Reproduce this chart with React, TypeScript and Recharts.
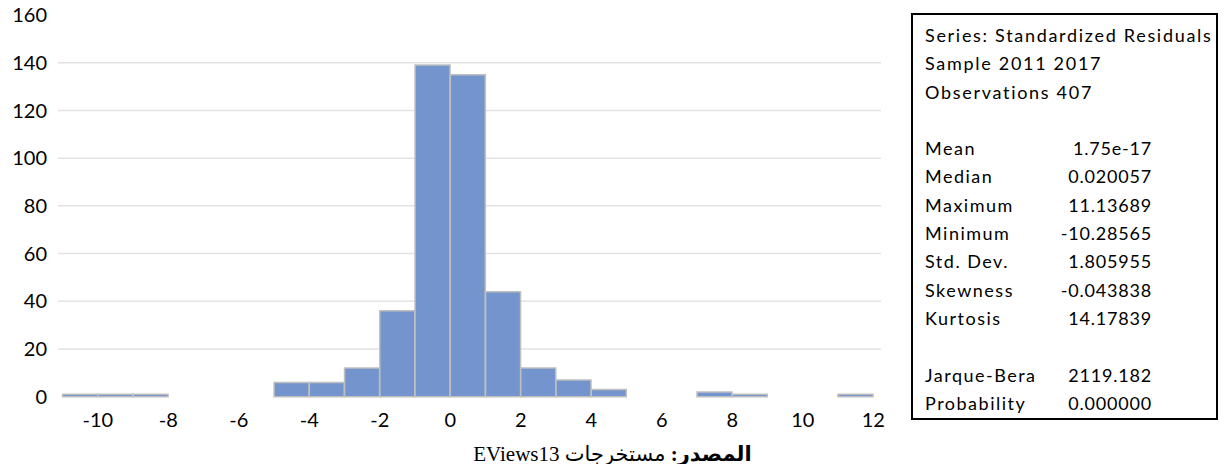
import React from "react";
import { BarChart, Bar, XAxis, YAxis, CartesianGrid } from "recharts";

// histogram bins (centre of each 1-unit bin) and counts
const binCenters = [
  -10.5, -9.5, -8.5, -7.5, -6.5, -5.5, -4.5, -3.5, -2.5, -1.5, -0.5, 0.5,
  1.5, 2.5, 3.5, 4.5, 5.5, 6.5, 7.5, 8.5, 9.5, 10.5, 11.5,
];
const counts = [
  1, 1, 1, 0, 0, 0, 6, 6, 12, 36, 139, 135, 44, 12, 7, 3, 0, 0, 2, 1, 0, 0, 1,
];

const xTicks = [-10, -8, -6, -4, -2, 0, 2, 4, 6, 8, 10, 12];
const yTicks = [0, 20, 40, 60, 80, 100, 120, 140, 160];
const gridValues = [20, 40, 60, 80, 100, 120, 140];

const statHeader = [
  "Series: Standardized Residuals",
  "Sample 2011 2017",
  "Observations 407",
];
const statLabels = [
  "Mean",
  "Median",
  "Maximum",
  "Minimum",
  "Std. Dev.",
  "Skewness",
  "Kurtosis",
];
const statValues = [
  "1.75e-17",
  "0.020057",
  "11.13689",
  "-10.28565",
  "1.805955",
  "-0.043838",
  "14.17839",
];
const testLabels = ["Jarque-Bera", "Probability"];
const testValues = ["2119.182", "0.000000"];

const data = binCenters.map((x, i) => ({ x, count: counts[i] }));

const tickStyle = { fill: "#000000", fontSize: 20, fontFamily: "Lato" };

function StatRow({ label, value }: { label: string; value: string }) {
  return (
    <div style={{ display: "flex", height: 28.3, lineHeight: "28.3px" }}>
      <span style={{ width: 130, letterSpacing: 1.5 }}>{label}</span>
      <span style={{ width: 97, textAlign: "right", letterSpacing: 0.8 }}>
        {value}
      </span>
    </div>
  );
}

export default function App() {
  return (
    <div style={{ position: "relative", width: 1214, height: 456 }}>
      {/* svg pulled up to the page top so the "160" label is not clipped */}
      <div style={{ position: "absolute", left: 0, top: -8 }}>
        <BarChart
          width={890}
          height={448}
          data={data}
          margin={{ top: 15, right: 17, bottom: 0, left: 0 }}
          barCategoryGap={0}
          barGap={0}
        >
          <CartesianGrid
            vertical={false}
            stroke="#e3e3e3"
            strokeWidth={1.5}
            horizontalValues={gridValues}
          />
          <XAxis
            dataKey="x"
            type="number"
            domain={[-11.13, 12.22]}
            ticks={xTicks}
            allowDataOverflow
            axisLine={false}
            tickLine={false}
            tickMargin={10}
            height={51.3}
            tick={tickStyle}
            interval={0}
          />
          <YAxis
            domain={[0, 160]}
            ticks={yTicks}
            axisLine={false}
            tickLine={false}
            tickMargin={5}
            width={50}
            tick={tickStyle}
            interval={0}
          />
          <Bar
            dataKey="count"
            fill="#7394cc"
            stroke="#bfbfbf"
            strokeWidth={1.5}
            isAnimationActive={false}
          />
        </BarChart>
      </div>

      <div
        style={{
          position: "absolute",
          left: 903,
          top: 5,
          width: 291,
          height: 397,
          border: "2px solid #000",
          paddingTop: 6,
          paddingLeft: 12,
          fontFamily: "Lato",
          fontSize: 18,
          color: "#000",
        }}
      >
        {statHeader.map((t) => (
          <div
            key={t}
            style={{
              height: 28.3,
              lineHeight: "28.3px",
              letterSpacing: 1.7,
              whiteSpace: "nowrap",
            }}
          >
            {t}
          </div>
        ))}
        <div style={{ height: 28.3 }} />
        {statLabels.map((l, i) => (
          <StatRow key={l} label={l} value={statValues[i]} />
        ))}
        <div style={{ height: 28.3 }} />
        {testLabels.map((l, i) => (
          <StatRow key={l} label={l} value={testValues[i]} />
        ))}
      </div>

      <div
        dir="rtl"
        style={{
          position: "absolute",
          left: 462,
          top: 434,
          width: 285,
          textAlign: "center",
          fontFamily: "'Liberation Serif', 'DejaVu Sans'",
          fontSize: 21,
          lineHeight: "24px",
          whiteSpace: "nowrap",
        }}
      >
        <b>المصدر:</b> مستخرجات EViews13
      </div>
    </div>
  );
}
